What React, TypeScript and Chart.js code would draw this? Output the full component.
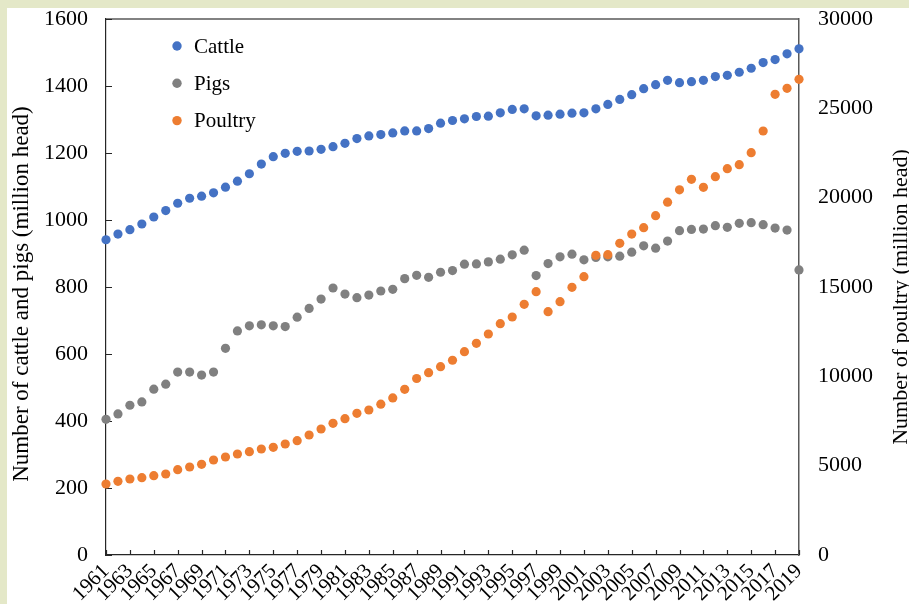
import React, { useEffect, useRef } from "react";
import { Chart, registerables } from "chart.js";

Chart.register(...registerables);

const years = [
  1961, 1962, 1963, 1964, 1965, 1966, 1967, 1968, 1969, 1970,
  1971, 1972, 1973, 1974, 1975, 1976, 1977, 1978, 1979, 1980,
  1981, 1982, 1983, 1984, 1985, 1986, 1987, 1988, 1989, 1990,
  1991, 1992, 1993, 1994, 1995, 1996, 1997, 1998, 1999, 2000,
  2001, 2002, 2003, 2004, 2005, 2006, 2007, 2008, 2009, 2010,
  2011, 2012, 2013, 2014, 2015, 2016, 2017, 2018, 2019,
];

const cattle = [
  941, 958, 971, 988, 1009, 1028, 1050, 1065, 1071, 1081,
  1098, 1116, 1138, 1167, 1189, 1199, 1205, 1206, 1211, 1219,
  1229, 1243, 1251, 1255, 1260, 1266, 1266, 1273, 1289, 1297,
  1302, 1309, 1310, 1320, 1330, 1332, 1311, 1313, 1316, 1319,
  1320, 1332, 1345, 1360, 1374, 1392, 1404, 1417, 1410, 1413,
  1417, 1428, 1432, 1441, 1453, 1470, 1479, 1496, 1511,
];

const pigs = [
  405, 421, 447, 457, 495, 510, 546, 546, 537, 546,
  617, 669, 684, 687, 684, 682, 710, 736, 764, 797,
  779, 768, 776, 788, 793, 825, 835, 829, 844, 849,
  868, 869, 875, 883, 896, 910, 834, 870, 890, 898,
  881, 888, 890, 892, 904, 923, 916, 937, 968, 972,
  973, 983, 978, 990, 992, 986, 976, 970, 851,
];

const poultry = [
  3974, 4125, 4254, 4329, 4441, 4534, 4776, 4925, 5076, 5317,
  5485, 5653, 5784, 5933, 6026, 6213, 6400, 6716, 7052, 7369,
  7630, 7929, 8116, 8440, 8790, 9274, 9880, 10204, 10540, 10900,
  11379, 11846, 12369, 12946, 13321, 14032, 14737, 13618, 14177, 14983,
  15577, 16774, 16808, 17446, 17960, 18319, 18990, 19750, 20440, 21028,
  20580, 21173, 21621, 21845, 22517, 23731, 25785, 26121, 26625,
];

const xTickYears = years.filter((_, i) => i % 2 === 0);

const seriesNames = ["Cattle", "Pigs", "Poultry"];
const seriesColors = ["#4472C4", "#808080", "#ED7D31"];

const leftTitle = "Number of cattle and pigs (million head)";
const rightTitle = "Number of poultry (million head)";

const BEIGE = "#e4e8c8";
const FONT = "'Liberation Serif', 'Times New Roman', serif";

const zeroPad = (s: any) => {
  s.paddingTop = 0;
  s.paddingBottom = 0;
  s.paddingLeft = 0;
  s.paddingRight = 0;
};

const framePlugin = {
  id: "framePlugin",
  beforeDraw(chart: any) {
    const ctx = chart.ctx;
    ctx.save();
    ctx.fillStyle = BEIGE;
    ctx.fillRect(0, 0, chart.width, chart.height);
    ctx.fillStyle = "#ffffff";
    ctx.fillRect(7, 8, chart.width, chart.height);
    ctx.restore();
  },
  beforeDatasetsDraw(chart: any) {
    const { ctx, chartArea: a, scales } = chart;
    ctx.save();
    ctx.strokeStyle = "#595959";
    ctx.lineWidth = 1.5;
    ctx.beginPath();
    ctx.moveTo(a.left, a.top);
    ctx.lineTo(a.right, a.top);
    ctx.stroke();
    ctx.strokeStyle = "#262626";
    ctx.lineWidth = 1.2;
    ctx.beginPath();
    const y = scales.y;
    y.ticks.forEach((_: any, i: number) => {
      const p = Math.round(y.getPixelForTick(i)) + 0.5;
      ctx.moveTo(a.left, p);
      ctx.lineTo(a.left + 6, p);
    });
    const x = scales.x;
    x.ticks.forEach((_: any, i: number) => {
      const p = Math.round(x.getPixelForTick(i)) + 0.5;
      ctx.moveTo(p, a.bottom);
      ctx.lineTo(p, a.bottom - 5);
    });
    ctx.stroke();

    // axis titles, both reading bottom to top
    ctx.fillStyle = "#000";
    ctx.textAlign = "center";
    ctx.textBaseline = "alphabetic";
    ctx.save();
    ctx.translate(28, 294);
    ctx.rotate(-Math.PI / 2);
    ctx.font = `23px ${FONT}`;
    ctx.fillText(leftTitle, 0, 0);
    ctx.restore();
    ctx.save();
    ctx.translate(907, 297);
    ctx.rotate(-Math.PI / 2);
    ctx.font = `22px ${FONT}`;
    ctx.fillText(rightTitle, 0, 0);
    ctx.restore();
    ctx.restore();
  },
  afterDatasetsDraw(chart: any) {
    const { ctx, chartArea: a } = chart;
    ctx.save();
    ctx.font = `21px ${FONT}`;
    ctx.textBaseline = "middle";
    ctx.textAlign = "left";
    chart.data.datasets.forEach((ds: any, i: number) => {
      const cy = a.top + 27 + 37.3 * i;
      ctx.fillStyle = ds.backgroundColor;
      ctx.beginPath();
      ctx.arc(a.left + 71, cy, 4.7, 0, Math.PI * 2);
      ctx.fill();
      ctx.fillStyle = "#000";
      ctx.fillText(ds.label, a.left + 88, cy + 1);
    });
    ctx.restore();
  },
};

export default function App() {
  const ref = useRef<HTMLCanvasElement | null>(null);

  useEffect(() => {
    if (!ref.current) return;
    const values = [cattle, pigs, poultry];
    const axes = ["y", "y", "y1"];
    const orders = [1, 2, 0];
    const chart = new Chart(ref.current, {
      type: "scatter",
      data: {
        datasets: values.map((arr, k) => ({
          label: seriesNames[k],
          data: arr.map((v, i) => ({ x: years[i], y: v })),
          backgroundColor: seriesColors[k],
          borderColor: seriesColors[k],
          borderWidth: 0,
          pointRadius: 4.6,
          pointHoverRadius: 4.6,
          yAxisID: axes[k],
          order: orders[k],
          clip: false,
        })),
      },
      options: {
        responsive: false,
        animation: false,
        devicePixelRatio: 1,
        layout: { padding: { left: 0, right: 0, top: 19, bottom: 0 } },
        plugins: {
          legend: { display: false },
          tooltip: { enabled: false },
          title: { display: false },
        },
        scales: {
          x: {
            type: "linear",
            min: 1961,
            max: 2019,
            afterBuildTicks: (s: any) => {
              s.ticks = xTickYears.map((v) => ({ value: v }));
            },
            afterFit: (s: any) => {
              s.height = 65;
              zeroPad(s);
            },
            grid: { display: false, drawTicks: false },
            border: { color: "#262626", width: 1.2 },
            ticks: {
              autoSkip: false,
              minRotation: 45,
              maxRotation: 45,
              padding: 4,
              color: "#000",
              font: { family: FONT, size: 21 },
              callback: (v: any) => String(v),
            },
          },
          y: {
            position: "left",
            min: 0,
            max: 1600,
            afterFit: (s: any) => {
              s.width = 106;
              zeroPad(s);
            },
            grid: { display: false, drawTicks: false },
            border: { color: "#262626", width: 1.2 },
            ticks: {
              stepSize: 200,
              padding: 18,
              color: "#000",
              font: { family: FONT, size: 22 },
              callback: (v: any) => String(v),
            },
          },
          y1: {
            position: "right",
            min: 0,
            max: 30000,
            afterFit: (s: any) => {
              s.width = 131;
              zeroPad(s);
            },
            grid: { display: false, drawTicks: false },
            border: { color: "#595959", width: 1.5 },
            ticks: {
              stepSize: 5000,
              padding: 19,
              color: "#000",
              font: { family: FONT, size: 22 },
              callback: (v: any) => String(v),
            },
          },
        },
      } as any,
      plugins: [framePlugin],
    });
    return () => chart.destroy();
  }, []);

  return (
    <div
      style={{
        position: "fixed",
        left: 0,
        top: 0,
        width: 909,
        height: 604,
        overflow: "hidden",
        background: BEIGE,
      }}
    >
      <canvas ref={ref} width={930} height={620} style={{ display: "block" }} />
    </div>
  );
}
